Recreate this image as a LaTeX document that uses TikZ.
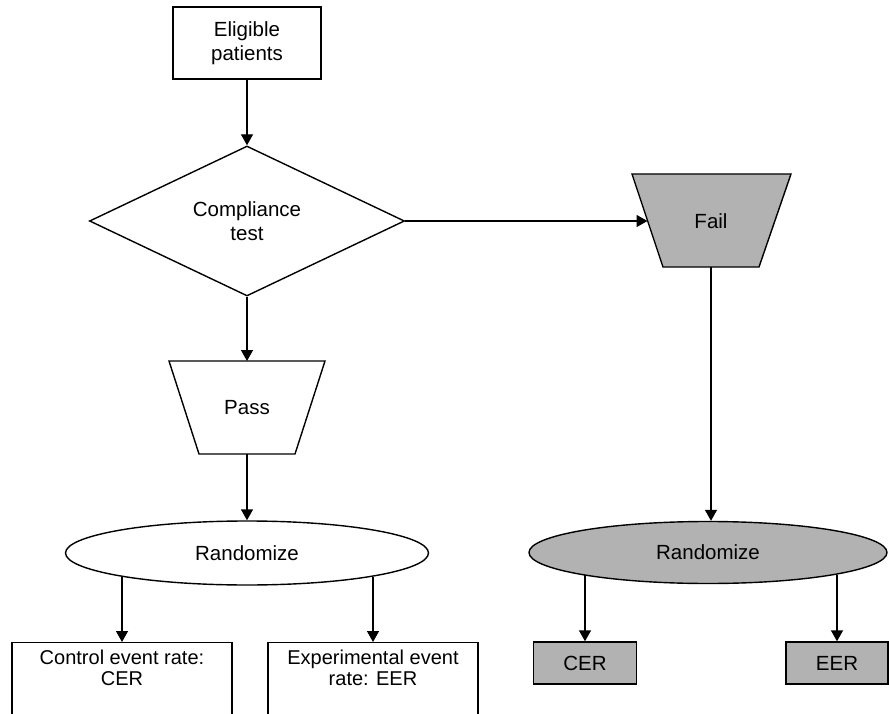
\documentclass[tikz,border=0pt]{standalone}
\usepackage{fontspec}
\setmainfont{Liberation Sans}
\usetikzlibrary{shapes.geometric,arrows.meta}
\begin{document}
\begin{tikzpicture}[x=1pt,y=1pt,line width=1.4pt,
  every node/.style={font=\fontsize{20.5}{24.5}\selectfont, align=center, inner sep=0pt},
  smalltxt/.style={font=\fontsize{20}{21}\selectfont},
  box/.style={draw, rectangle},
  graybox/.style={draw, rectangle, fill=black!30},
  arr/.style={-{Triangle[length=11pt,width=12pt]}}
]
\useasboundingbox (0,0) rectangle (889,-714);

\node[box, minimum width=148pt, minimum height=72pt] (elig) at (247,-43) {Eligible\\patients};
\node[draw, diamond, aspect=2, minimum width=315pt, minimum height=150pt] (diam) at (247,-221) {Compliance\\test};

% Pass trapezoid
\coordinate (passtl) at (169,-361);
\coordinate (passtr) at (325,-361);
\coordinate (passbr) at (295,-454);
\coordinate (passbl) at (199,-454);
\coordinate (passtop) at (247,-361);
\coordinate (passbot) at (247,-454);
\draw (passtl) -- (passtr) -- (passbr) -- (passbl) -- cycle;
\node (pass) at (247,-407.5) {Pass};

% Fail trapezoid
\coordinate (failtl) at (632,-174);
\coordinate (failtr) at (791,-174);
\coordinate (failbr) at (759,-267);
\coordinate (failbl) at (663,-267);
\coordinate (failin) at (647.5,-221);
\coordinate (failbot) at (711,-267);
\draw[fill=black!30] (failtl) -- (failtr) -- (failbr) -- (failbl) -- cycle;
\node (fail) at (711,-221) {Fail};

\node[draw, ellipse, minimum width=363pt, minimum height=64pt] (rand1) at (247,-553) {Randomize};
\node[draw, ellipse, fill=black!30, minimum width=358pt, minimum height=62pt] (rand2) at (708,-552.5) {Randomize};

\node[box, minimum width=220pt, minimum height=84pt, anchor=north] (ctrl) at (122,-642) {};
\node[smalltxt] (ctrltxt) at (122,-668) {Control event rate:\\CER};
\node[box, minimum width=210pt, minimum height=84pt, anchor=north] (exp) at (373,-642) {};
\node[smalltxt] (exptxt) at (373,-668) {Experimental event\\rate: EER};
\node[graybox, minimum width=103pt, minimum height=42pt] (cer) at (585,-663) {CER};
\node[graybox, minimum width=102pt, minimum height=42pt] (eer) at (837,-663) {EER};

\draw[arr] (elig.south) -- (diam.north);
\draw[arr] (diam.south) -- (passtop);
\draw[arr] (diam.east) -- (failin);
\draw[arr] (passbot) -- (rand1.north);
\draw[arr] (failbot) -- (failbot |- rand2.north);
\draw[arr] (ctrl.north |- rand1.190.4) -- (ctrl.north);
\draw[arr] (exp.north |- rand1.349.6) -- (exp.north);
\draw[arr] (cer.north |- rand2.190.4) -- (cer.north);
\draw[arr] (eer.north |- rand2.350.5) -- (eer.north);
\end{tikzpicture}
\end{document}
